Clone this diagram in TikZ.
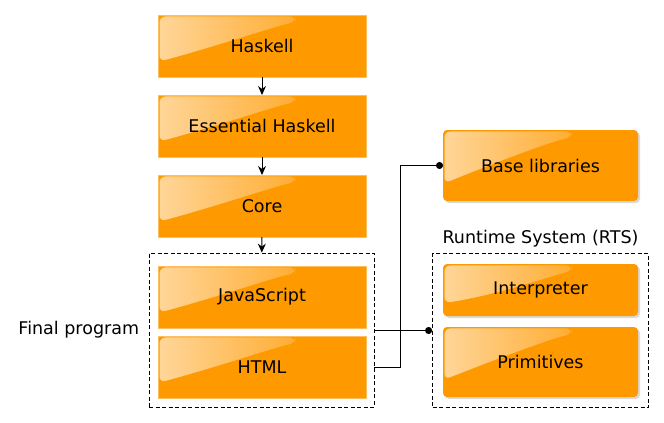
\documentclass[tikz,border=0pt]{standalone}
\usepackage{fontspec}
\setmainfont{DejaVu Sans}
\usetikzlibrary{calc,positioning,fit,shadows,fadings,arrows.meta}
\definecolor{box}{HTML}{FF9900}
\definecolor{boxedge}{HTML}{FFBE5C}
\definecolor{ink}{HTML}{000000}
\tikzfading[name=glossfade, left color=transparent!40, right color=transparent!100]

\tikzset{
  gloss/.style={path picture={
    \fill[white, path fading=glossfade, rounded corners=6pt]
      ([shift={(1.5pt,-1.5pt)}]path picture bounding box.north west)
      -- ($(path picture bounding box.north west)!0.75!(path picture bounding box.south west)+(1.5pt,0)$)
      .. controls ($(path picture bounding box.north west)!0.3!(path picture bounding box.north east)+(0,-30pt)$)
      and ($(path picture bounding box.north west)!0.55!(path picture bounding box.north east)+(0,-12pt)$)
      .. ($(path picture bounding box.north west)!0.66!(path picture bounding box.north east)+(0,-7pt)$)
      -- ($(path picture bounding box.north west)!0.66!(path picture bounding box.north east)+(0,-1.5pt)$)
      -- cycle;
  }},
  lbox/.style={draw=boxedge, line width=0.8pt, outer sep=0pt, fill=box, minimum width=208pt,
    minimum height=62pt, gloss, text=ink, font=\fontsize{17.5}{21}\selectfont},
  rbox/.style={fill=box, rounded corners=4pt, outer sep=0pt, minimum width=195pt, gloss, text=ink,
    drop shadow={shadow xshift=2pt, shadow yshift=-2pt, opacity=0.3},
    font=\fontsize{17.5}{21}\selectfont},
  groupbox/.style={draw, dash pattern=on 4pt off 2.5pt, line width=0.8pt, inner sep=0pt},
  lbl/.style={font=\fontsize{17.5}{21}\selectfont, text=ink},
  arrow/.style={line width=1pt, -{Stealth[length=9pt, width=8pt, inset=3pt]}},
  dotline/.style={line width=1pt, -{Circle[length=7pt]}},
}

\begin{document}
\begin{tikzpicture}[x=1pt, y=-1pt]
  \useasboundingbox (0,0) rectangle (664,423);

  % compiler pipeline
  \node[lbox] (haskell) at (262,46) {Haskell};
  \node[lbox, below=18pt of haskell] (essential) {Essential Haskell};
  \node[lbox, below=18pt of essential] (core) {Core};
  \node[lbox, below=29pt of core] (js) {JavaScript};
  \node[lbox, below=8pt of js] (html) {HTML};
  \node[groupbox, fit={($(js.north west)+(-9pt,13pt)$) ($(html.south east)+(8pt,-9pt)$)}] (final) {};
  \node[lbl, left=6pt of final] (finallabel) {Final program};

  % runtime side
  \node[rbox, minimum height=71pt] (base) at (540.5,165.5) {Base libraries};
  \node[rbox, minimum height=52pt] (interp) at (540.5,290) {Interpreter};
  \node[rbox, minimum height=70pt, below=11pt of interp] (prim) {Primitives};
  \node[groupbox, fit=(interp)(prim), inner sep=10.5pt] (rts) {};
  \node[lbl, above=2pt of rts] (rtslabel) {Runtime System (RTS)};

  \draw[arrow] (haskell) -- (essential);
  \draw[arrow] (essential) -- (core);
  \draw[arrow] (core) -- (final);
  \draw[dotline] (rts.west -| final.east) -- (rts.west);
  \draw[dotline] (final.east |- html) -- ++(26pt,0) |- (base.west);
\end{tikzpicture}
\end{document}
